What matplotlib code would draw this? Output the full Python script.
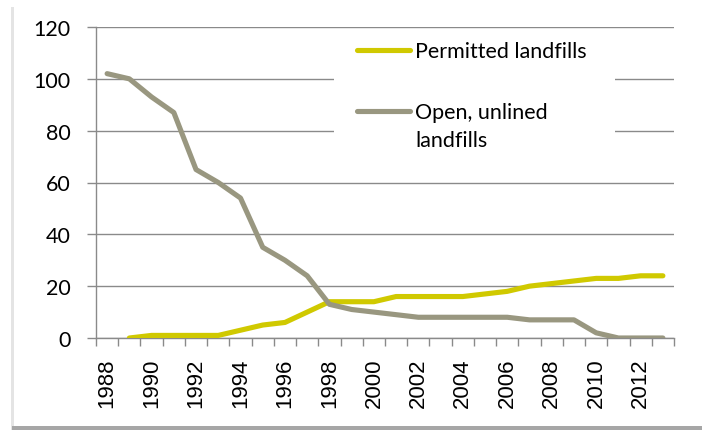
import numpy as np
import matplotlib
matplotlib.use('Agg')
import matplotlib.pyplot as plt
from matplotlib.patches import Rectangle
from matplotlib.lines import Line2D

years = list(range(1988, 2014))
permitted = [np.nan, 0, 1, 1, 1, 1, 3, 5, 6, 10, 14, 14, 14, 16, 16, 16, 16, 17, 18, 20, 21, 22, 23, 23, 24, 24]
open_unlined = [102, 100, 93, 87, 65, 60, 54, 35, 30, 24, 13, 11, 10, 9, 8, 8, 8, 8, 8, 7, 7, 7, 2, 0, 0, 0]
yticks = [0, 20, 40, 60, 80, 100, 120]
labels = ['Permitted landfills', 'Open, unlined\nlandfills']

col_perm = '#d0c900'
col_open = '#999780'
grid_col = '#8a8a8a'
W, H = 702, 431

def fx(px): return px/W
def fy(py): return 1-py/H

fig = plt.figure(figsize=(W/100, H/100), dpi=100)
ax = fig.add_axes([fx(96), fy(339), fx(674-96), (339-28)/H])

x = np.arange(len(years))
ax.plot(x, permitted, color=col_perm, lw=3.7, solid_capstyle='round', solid_joinstyle='round', zorder=3)
ax.plot(x, open_unlined, color=col_open, lw=3.7, solid_capstyle='round', solid_joinstyle='round', zorder=3)

ax.set_xlim(-0.5, len(years)-0.5)
ax.set_ylim(0, 120)
ax.set_yticks(yticks)
ax.yaxis.grid(True, color=grid_col, lw=1.0)
ax.set_axisbelow(True)

# year labels every other category, tick marks between categories
ax.set_xticks(x[::2])
ax.set_xticklabels([str(y) for y in years[::2]], rotation=90, fontsize=16,
                   family='Liberation Sans')
ax.set_xticks(np.arange(-0.5, len(years)), minor=True)
ax.tick_params(axis='x', which='major', length=0, pad=14)
ax.tick_params(axis='x', which='minor', length=6, width=1, color=grid_col, direction='out')
ax.tick_params(axis='y', length=6.5, width=1, color=grid_col, pad=12)
for t in ax.get_yticklabels():
    t.set_family('Lato')
    t.set_fontsize(15.5)

for s in ['top', 'right']:
    ax.spines[s].set_visible(False)
for s in ['left', 'bottom']:
    ax.spines[s].set_color(grid_col)
    ax.spines[s].set_linewidth(1)

# legend drawn by hand, white box hides the gridlines behind it
fig.add_artist(Rectangle((fx(334), fy(170)), fx(615)-fx(334), fy(36)-fy(170),
                         transform=fig.transFigure, facecolor='white', edgecolor='none', zorder=2))
for yc, col in [(51, col_perm), (112, col_open)]:
    fig.add_artist(Line2D([fx(357), fx(410)], [fy(yc), fy(yc)], transform=fig.transFigure,
                          color=col, lw=3.7, solid_capstyle='round', zorder=3))
leg_lines = [labels[0]] + labels[1].split('\n')
for yb, txt in zip([58, 119, 147], leg_lines):
    fig.text(fx(415), fy(yb), txt, ha='left', va='baseline', fontsize=15.5, family='Lato', zorder=3)

# chart frame shadow
fig.add_artist(Rectangle((fx(11), 0), fx(3), fy(8), transform=fig.transFigure,
                         facecolor='#e4e4e4', edgecolor='none'))
fig.add_artist(Rectangle((fx(12), 0), 1, fy(427), transform=fig.transFigure,
                         facecolor='#a6a6a6', edgecolor='none'))

fig.savefig('out.png', dpi=100)
